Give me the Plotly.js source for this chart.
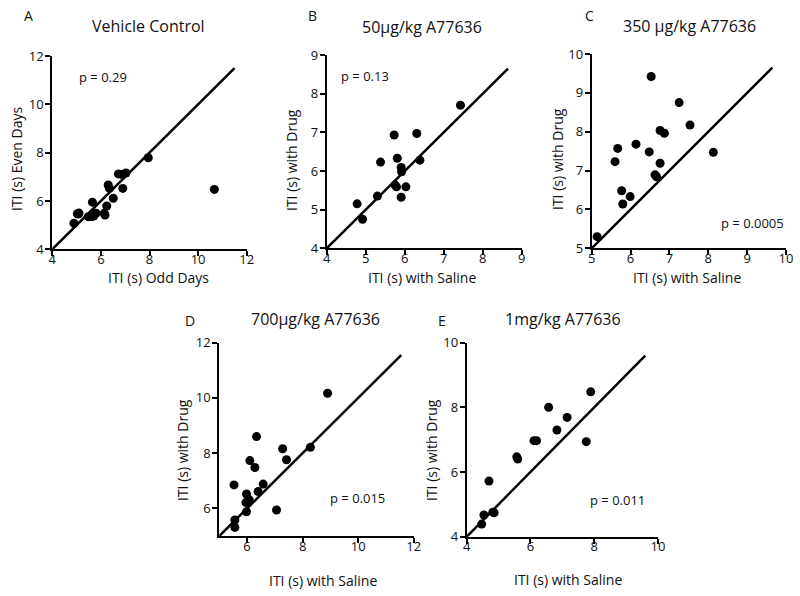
<!DOCTYPE html>
<html lang="en">
<head>
    <meta charset="UTF-8">
    <title>ITI scatter plots</title>
    <script src="https://cdn.jsdelivr.net/npm/plotly.js-dist-min"></script>
    <style>
        body {
            margin: 0;
            padding: 0;
            background: #fff;
        }

        #chart {
            width: 800px;
            height: 596px;
        }
    </style>
</head>
<body>
<div id="chart"></div>
<script>
// Panel A - vehicle control
const oddDays = [4.89, 5.07, 5.03, 5.10, 5.48, 5.62, 5.70, 5.65, 5.80, 6.14, 6.17, 6.24, 6.51, 6.30, 6.35, 6.90, 6.72, 6.86, 7.03, 7.95, 10.67];
const evenDays = [5.08, 5.46, 5.47, 5.50, 5.35, 5.35, 5.38, 5.95, 5.49, 5.49, 5.42, 5.79, 6.11, 6.66, 6.52, 6.52, 7.12, 7.10, 7.16, 7.79, 6.48];

// Panel B - 50 ug/kg
const salineB = [4.78, 4.92, 5.30, 5.38, 5.73, 6.31, 5.81, 5.91, 5.92, 6.39, 5.75, 5.79, 6.03, 5.91, 7.43];
const drugB = [5.15, 4.75, 5.35, 6.23, 6.93, 6.97, 6.33, 6.09, 5.98, 6.28, 5.64, 5.59, 5.59, 5.32, 7.70];

// Panel C - 350 ug/kg
const salineC = [5.14, 5.60, 5.67, 5.77, 5.80, 5.99, 6.14, 6.48, 6.53, 6.63, 6.67, 6.76, 6.76, 6.87, 7.25, 7.53, 8.13];
const drugC = [5.30, 7.23, 7.57, 6.48, 6.14, 6.33, 7.68, 7.48, 9.42, 6.89, 6.84, 7.19, 8.03, 7.96, 8.75, 8.17, 7.47];

// Panel D - 700 ug/kg
const salineD = [6.34, 7.28, 7.42, 6.10, 6.28, 5.53, 6.58, 6.40, 5.98, 6.08, 5.96, 5.98, 7.06, 5.56, 5.56, 8.28, 8.90];
const drugD = [8.60, 8.16, 7.76, 7.73, 7.48, 6.85, 6.88, 6.61, 6.52, 6.31, 6.21, 5.88, 5.94, 5.58, 5.31, 8.21, 10.17];

// Panel E - 1 mg/kg
const salineE = [4.47, 4.54, 4.70, 4.82, 4.86, 5.57, 5.60, 6.11, 6.19, 6.57, 6.83, 7.15, 7.75, 7.89];
const drugE = [4.39, 4.67, 5.72, 4.76, 4.74, 6.47, 6.40, 6.97, 6.97, 8.00, 7.30, 7.69, 6.94, 8.48];

// unity lines (start, end) for each panel
const unityA = [4, 11.5];
const unityB = [4, 8.65];
const unityC = [5, 9.65];
const unityD = [5, 11.55];
const unityE = [4, 9.6];

const panelLetters = ['A', 'B', 'C', 'D', 'E'];
const panelTitles = ['Vehicle Control', '50µg/kg A77636', '350 µg/kg A77636', '700µg/kg A77636', '1mg/kg A77636'];
const xTitles = ['ITI (s) Odd Days', 'ITI (s) with Saline', 'ITI (s) with Saline', 'ITI (s) with Saline', 'ITI (s) with Saline'];
const yTitles = ['ITI (s) Even Days', 'ITI (s) with Drug', 'ITI (s) with Drug', 'ITI (s) with Drug', 'ITI (s) with Drug'];
const pValues = ['p = 0.29', 'p = 0.13', 'p = 0.0005', 'p = 0.015', 'p = 0.011'];
const axisRanges = [[4, 12], [4, 9], [5, 10], [5, 12], [4, 10]];
const tickSteps = [2, 1, 1, 2, 2];

const W = 800, H = 596;
const FONT = '"Open Sans", "DejaVu Sans", sans-serif';

// plot boxes in pixels: left, right, top, bottom
const boxes = [
    [52.3, 246.7, 56, 249.3],
    [326.7, 521.7, 55, 248.3],
    [591.7, 786, 54, 248.3],
    [219.3, 413.7, 342.7, 536],
    [466.7, 658, 342.7, 536.7]
];

// label spots in pixels
const letterPos = [[29, 15], [312, 15], [589, 15], [190, 320], [442, 320]];
const titlePos = [[148, 26], [422, 27], [689, 26], [315, 319], [563, 319]];
const xTitlePos = [[158, 277], [422, 277], [687, 277], [323, 580], [568, 579]];
const yTitlePos = [[16, 159], [291, 160], [557, 159], [182, 450], [431, 450]];
const pPos = [[103, 77], [365, 76], [752, 223], [357, 498], [617, 500]];

const px = x => x / W;
const py = y => 1 - y / H;

const series = [
    [oddDays, evenDays, unityA],
    [salineB, drugB, unityB],
    [salineC, drugC, unityC],
    [salineD, drugD, unityD],
    [salineE, drugE, unityE]
];

const data = [];
const layout = {
    width: W,
    height: H,
    margin: { l: 0, r: 0, t: 0, b: 0 },
    paper_bgcolor: '#fff',
    plot_bgcolor: '#fff',
    showlegend: false,
    font: { family: FONT, color: '#111', size: 13 },
    annotations: []
};

series.forEach((s, i) => {
    const n = i === 0 ? '' : String(i + 1);
    const xa = 'x' + n, ya = 'y' + n;

    data.push({
        x: s[2], y: s[2], xaxis: xa, yaxis: ya,
        type: 'scatter', mode: 'lines',
        line: { color: '#000', width: 2.5 },
        hoverinfo: 'skip'
    });
    data.push({
        x: s[0], y: s[1], xaxis: xa, yaxis: ya,
        type: 'scatter', mode: 'markers',
        marker: { color: '#000', size: 9 }
    });

    const b = boxes[i];
    const axisBase = {
        range: axisRanges[i],
        dtick: tickSteps[i],
        tick0: 0,
        showgrid: false,
        zeroline: false,
        showline: true,
        linecolor: '#000',
        linewidth: 2,
        ticks: 'outside',
        ticklen: 5,
        tickwidth: 2,
        tickcolor: '#000',
        tickfont: { family: FONT, size: 13, color: '#111' },
        fixedrange: true
    };
    layout['xaxis' + n] = Object.assign({}, axisBase, {
        domain: [px(b[0]), px(b[1])],
        anchor: ya,
        ticklabelstandoff: -8
    });
    layout['yaxis' + n] = Object.assign({}, axisBase, {
        domain: [py(b[3]), py(b[2])],
        anchor: xa,
        ticklabelstandoff: -1
    });

    const note = (pos, text, size, extra) => Object.assign({
        xref: 'paper', yref: 'paper',
        x: px(pos[0]), y: py(pos[1]),
        xanchor: 'center', yanchor: 'middle',
        text: text, showarrow: false,
        font: { family: FONT, size: size, color: '#111' }
    }, extra || {});

    layout.annotations.push(note(letterPos[i], panelLetters[i], 14));
    layout.annotations.push(note(titlePos[i], panelTitles[i], 16));
    layout.annotations.push(note(xTitlePos[i], xTitles[i], 14));
    layout.annotations.push(note(yTitlePos[i], yTitles[i], 14, { textangle: -90 }));
    layout.annotations.push(note(pPos[i], pValues[i], 13));
});

Plotly.newPlot('chart', data, layout, { displayModeBar: false, staticPlot: true });
</script>
</body>
</html>
